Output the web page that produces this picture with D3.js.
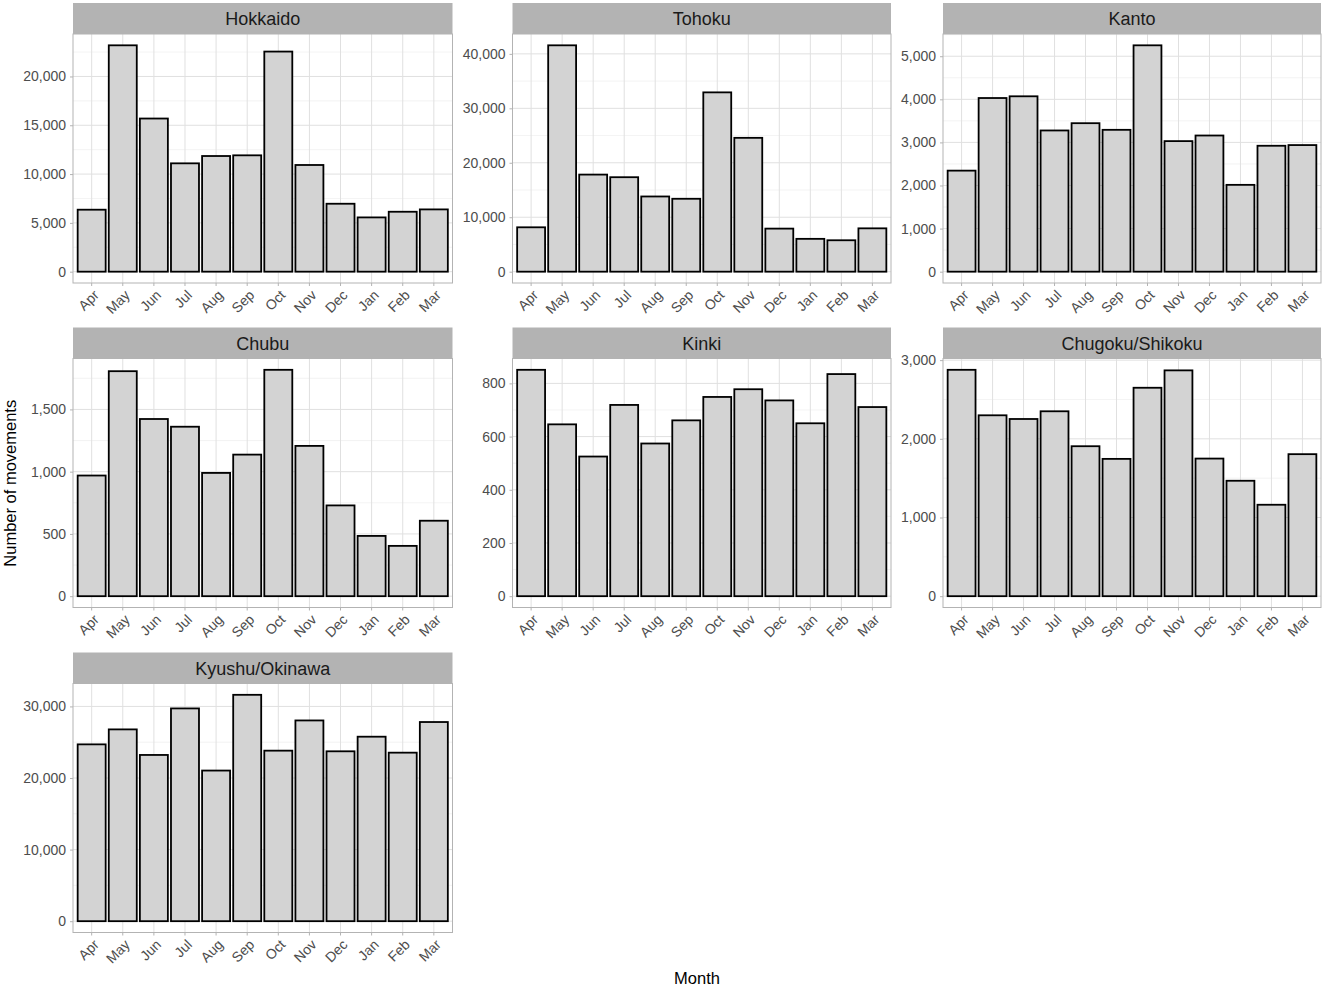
<!DOCTYPE html>
<html>
<head>
<meta charset="utf-8">
<script src="https://cdn.jsdelivr.net/npm/d3@7"></script>
<style>
  body { margin: 0; background: #fff; }
  svg text { font-family: "Liberation Sans", Arial, sans-serif; }
</style>
</head>
<body>
<div id="chart"></div>
<script>
const months = ["Apr", "May", "Jun", "Jul", "Aug", "Sep", "Oct", "Nov", "Dec", "Jan", "Feb", "Mar"];
const regions = ["Hokkaido", "Tohoku", "Kanto", "Chubu", "Kinki", "Chugoku/Shikoku", "Kyushu/Okinawa"];

const hokkaido = [6350, 23190, 15690, 11100, 11850, 11920, 22550, 10930, 6960, 5560, 6140, 6380];
const tohoku = [8150, 41570, 17830, 17350, 13810, 13390, 32930, 24580, 7910, 6030, 5770, 7960];
const kanto = [2345, 4030, 4070, 3277, 3446, 3292, 5253, 3030, 3160, 2015, 2922, 2938];
const chubu = [969, 1807, 1423, 1361, 990, 1137, 1818, 1207, 729, 484, 404, 606];
const kinki = [851, 646, 525, 719, 574, 661, 749, 778, 736, 650, 835, 711];
const chugokuShikoku = [2877, 2299, 2252, 2350, 1906, 1745, 2649, 2870, 1749, 1467, 1162, 1805];
const kyushuOkinawa = [24700, 26790, 23220, 29720, 21040, 31620, 23820, 28040, 23730, 25770, 23540, 27820];

// y tick spacing per panel, as in the original
const tickSteps = [5000, 10000, 1000, 500, 200, 1000, 10000];

const series = [hokkaido, tohoku, kanto, chubu, kinki, chugokuShikoku, kyushuOkinawa];

const width = 1325;
const height = 987;
const colX = [73, 512.5, 943];
const colW = [379.5, 378.5, 378];
const rowY = [3, 327.5, 652.5];
const stripH = 31;
const plotH = 249;

const svg = d3.select("#chart")
    .append("svg")
    .attr("width", width)
    .attr("height", height);

regions.forEach((name, i) => {
    const col = i % 3;
    const row = Math.floor(i / 3);
    const values = series[i];
    const left = colX[col];
    const w = colW[col];
    const top = rowY[row] + stripH;

    const max = d3.max(values);
    const y = d3.scaleLinear()
        .domain([-0.05 * max, 1.05 * max])
        .range([plotH, 0]);
    const x = d3.scaleBand()
        .domain(months)
        .range([0, w])
        .paddingInner(0.1)
        .paddingOuter(0.15);

    const step = tickSteps[i];
    const majors = d3.range(0, y.domain()[1], step);
    const minors = d3.range(step / 2, y.domain()[1], step);

    // strip
    svg.append("rect")
        .attr("x", left)
        .attr("y", rowY[row])
        .attr("width", w)
        .attr("height", stripH)
        .attr("fill", "#b3b3b3");
    svg.append("text")
        .attr("x", left + w / 2)
        .attr("y", rowY[row] + stripH / 2)
        .attr("dy", "0.38em")
        .attr("text-anchor", "middle")
        .attr("font-size", 18)
        .attr("fill", "#1a1a1a")
        .text(name);

    const g = svg.append("g")
        .attr("transform", `translate(${left},${top})`);

    g.append("rect")
        .attr("width", w)
        .attr("height", plotH)
        .attr("fill", "#fff");

    // grid
    g.selectAll(".minor")
        .data(minors)
        .join("line")
        .attr("x1", 0).attr("x2", w)
        .attr("y1", d => y(d)).attr("y2", d => y(d))
        .attr("stroke", "#ebebeb")
        .attr("stroke-width", 0.6);
    g.selectAll(".major")
        .data(majors)
        .join("line")
        .attr("x1", 0).attr("x2", w)
        .attr("y1", d => y(d)).attr("y2", d => y(d))
        .attr("stroke", "#e0e0e0")
        .attr("stroke-width", 1);
    g.selectAll(".vgrid")
        .data(months)
        .join("line")
        .attr("x1", d => x(d) + x.bandwidth() / 2)
        .attr("x2", d => x(d) + x.bandwidth() / 2)
        .attr("y1", 0).attr("y2", plotH)
        .attr("stroke", "#e0e0e0")
        .attr("stroke-width", 1);

    // bars
    g.selectAll(".bar")
        .data(values)
        .join("rect")
        .attr("x", (d, j) => x(months[j]))
        .attr("y", d => y(d))
        .attr("width", x.bandwidth())
        .attr("height", d => y(0) - y(d))
        .attr("fill", "#d3d3d3")
        .attr("stroke", "#000")
        .attr("stroke-width", 1.8);

    // border
    g.append("rect")
        .attr("width", w)
        .attr("height", plotH)
        .attr("fill", "none")
        .attr("stroke", "#b3b3b3")
        .attr("stroke-width", 1);

    // axes
    const yAxis = g.append("g")
        .call(d3.axisLeft(y)
            .tickValues(majors)
            .tickFormat(d3.format(","))
            .tickSize(3)
            .tickPadding(4));
    yAxis.select(".domain").remove();
    yAxis.selectAll("line").attr("stroke", "#b3b3b3");
    yAxis.selectAll("text")
        .attr("font-size", 14)
        .attr("fill", "#4d4d4d");

    const xAxis = g.append("g")
        .attr("transform", `translate(0,${plotH})`)
        .call(d3.axisBottom(x).tickSize(3));
    xAxis.select(".domain").remove();
    xAxis.selectAll("line").attr("stroke", "#b3b3b3");
    xAxis.selectAll("text")
        .attr("x", 0)
        .attr("y", 0)
        .attr("dy", "0.71em")
        .attr("transform", "translate(1,6) rotate(-45)")
        .attr("text-anchor", "end")
        .attr("font-size", 14)
        .attr("fill", "#4d4d4d");
});

svg.append("text")
    .attr("x", (colX[0] + colX[2] + colW[2]) / 2)
    .attr("y", 984)
    .attr("text-anchor", "middle")
    .attr("font-size", 16.5)
    .attr("fill", "#000")
    .text("Month");

svg.append("text")
    .attr("transform", `translate(15.5,${(rowY[0] + stripH + rowY[2] + stripH + plotH) / 2}) rotate(-90)`)
    .attr("text-anchor", "middle")
    .attr("font-size", 16.5)
    .attr("fill", "#000")
    .text("Number of movements");
</script>
</body>
</html>
